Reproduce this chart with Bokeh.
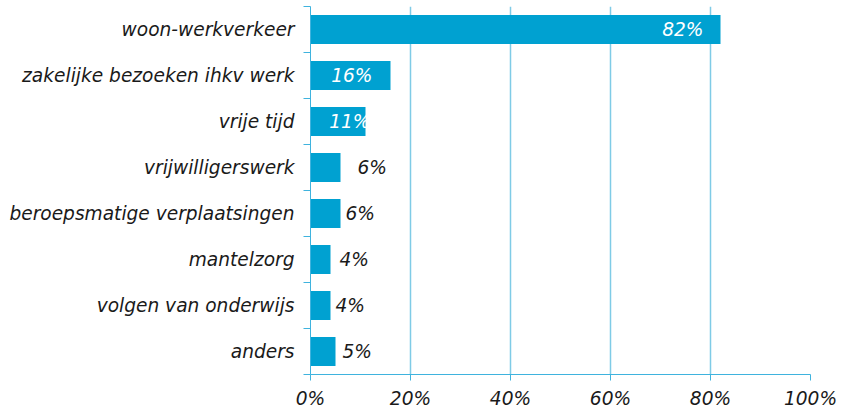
from bokeh.plotting import figure
from bokeh.models import ColumnDataSource, FixedTicker, Range1d
from bokeh.core.properties import value
from bokeh.embed import file_html
from bokeh.resources import INLINE

categories = ["woon-werkverkeer", "zakelijke bezoeken ihkv werk", "vrije tijd",
              "vrijwilligerswerk", "beroepsmatige verplaatsingen", "mantelzorg",
              "volgen van onderwijs", "anders"]
values = [82, 16, 11, 6, 6, 4, 4, 5]
x_ticks = [0, 20, 40, 60, 80, 100]

# label styling (pixels offset from bar end)
label_offsets = [-17, -18, 5, 17, 5, 9, 5, 7]
inside = [True, True, True, False, False, False, False, False]

BAR = "#00a1d1"
GRID = "#7fcbe6"
AXIS = "#3fb3de"
FONT = "DejaVu Sans"
FS = "18.6px"

n = len(categories)
ypos = [n - i - 0.5 for i in range(n)]

src = ColumnDataSource(dict(y=ypos, v=values, cat=categories))

p = figure(width=840, height=411, output_backend="svg", toolbar_location=None,
           x_range=Range1d(0, 100), y_range=Range1d(0, n),
           min_border_left=310, min_border_right=30, min_border_top=6,
           min_border_bottom=10)
p.outline_line_color = None
p.background_fill_color = "white"
p.border_fill_color = "white"

p.hbar(y="y", right="v", left=0, height=0.63, source=src, color=BAR, line_color=None)

ins = [i for i in range(n) if inside[i]]
outs = [i for i in range(n) if not inside[i]]
src_in = ColumnDataSource(dict(x=[values[i] for i in ins], y=[ypos[i] for i in ins],
                               t=[f"{values[i]}%" for i in ins],
                               o=[label_offsets[i] for i in ins]))
src_out = ColumnDataSource(dict(x=[values[i] for i in outs], y=[ypos[i] for i in outs],
                                t=[f"{values[i]}%" for i in outs],
                                o=[label_offsets[i] for i in outs]))
p.text(x="x", y="y", text="t", x_offset="o", source=src_in, text_align="right",
       text_baseline="middle", text_color="white", text_font=value(FONT),
       text_font_style="italic", text_font_size=FS)
p.text(x="x", y="y", text="t", x_offset="o", source=src_out, text_align="left",
       text_baseline="middle", text_color="#1a1a1a", text_font=value(FONT),
       text_font_style="italic", text_font_size=FS)

# x axis
xa = p.xaxis[0]
xa.ticker = FixedTicker(ticks=x_ticks)
xa.major_label_overrides = {t: f"{t}%" for t in x_ticks}
xa.axis_line_color = AXIS
xa.major_tick_line_color = AXIS
xa.major_tick_out = 6
xa.major_tick_in = 0
xa.minor_tick_line_color = None
xa.major_label_text_font = FONT
xa.major_label_text_font_style = "italic"
xa.major_label_text_font_size = FS
xa.major_label_text_color = "#1a1a1a"
xa.major_label_standoff = 7

# y axis
ya = p.yaxis[0]
ya.ticker = FixedTicker(ticks=ypos, minor_ticks=list(range(n + 1)))
ya.major_label_overrides = {y: c for y, c in zip(ypos, categories)}
ya.axis_line_color = AXIS
ya.major_tick_line_color = None
ya.major_tick_out = 0
ya.major_tick_in = 0
ya.minor_tick_line_color = AXIS
ya.minor_tick_out = 7
ya.minor_tick_in = 0
ya.major_label_text_font = FONT
ya.major_label_text_font_style = "italic"
ya.major_label_text_font_size = FS
ya.major_label_text_color = "#1a1a1a"
ya.major_label_standoff = 9

p.xgrid.grid_line_color = GRID
p.xgrid.grid_line_width = 1.5
p.ygrid.grid_line_color = None

open("out.html", "w").write(file_html(p, INLINE))
